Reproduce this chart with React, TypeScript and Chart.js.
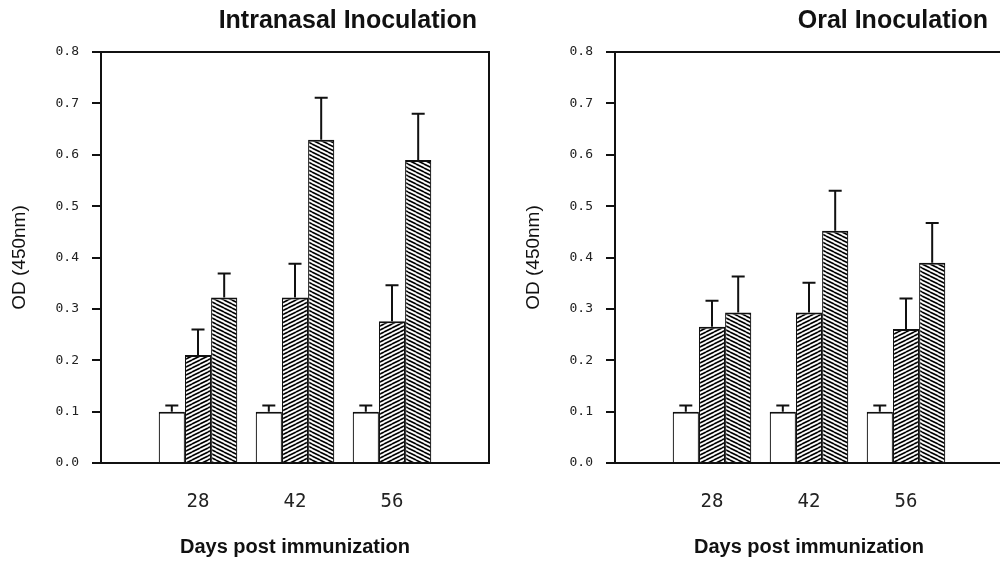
import React, { useEffect, useRef } from 'react';
import { Chart, registerables } from 'chart.js';

Chart.register(...registerables);

// ---- data ----
const days = ['28', '42', '56'];

const intranasalControl = [0.1, 0.1, 0.1];
const intranasalControlErr = [0.012, 0.012, 0.012];
const intranasalGroupA = [0.21, 0.322, 0.276];
const intranasalGroupAErr = [0.05, 0.066, 0.07];
const intranasalGroupB = [0.322, 0.629, 0.59];
const intranasalGroupBErr = [0.047, 0.082, 0.09];

const oralControl = [0.1, 0.1, 0.1];
const oralControlErr = [0.012, 0.012, 0.012];
const oralGroupA = [0.265, 0.293, 0.261];
const oralGroupAErr = [0.051, 0.058, 0.059];
const oralGroupB = [0.293, 0.452, 0.39];
const oralGroupBErr = [0.07, 0.078, 0.077];

const yMin = 0;
const yMax = 0.8;
const yStep = 0.1;

const pad = (a: (number | string)[]) => [null, ...a, null];

function makeHatch(dir: number): CanvasPattern | string {
  const c = document.createElement('canvas');
  const w = 8;
  const h = 4;
  c.width = w;
  c.height = h;
  const g = c.getContext('2d');
  if (!g) return '#888';
  g.fillStyle = '#ffffff';
  g.fillRect(0, 0, w, h);
  g.strokeStyle = '#000000';
  g.lineWidth = 1.6;
  for (const dy of [-h, 0, h]) {
    g.beginPath();
    if (dir > 0) {
      g.moveTo(0, h + dy);
      g.lineTo(w, dy);
    } else {
      g.moveTo(0, dy);
      g.lineTo(w, h + dy);
    }
    g.stroke();
  }
  const p = g.createPattern(c, 'repeat');
  return p || '#888';
}

const decorPlugin = {
  id: 'panelDecor',
  afterDatasetsDraw(chart: any, _args: any, opts: any) {
    const ctx = chart.ctx;
    const { left, right, top, bottom } = chart.chartArea;
    const yScale = chart.scales.y;
    ctx.save();
    // error bars
    ctx.strokeStyle = '#111';
    ctx.lineWidth = 2;
    (opts.errors || []).forEach((errs: (number | null)[], di: number) => {
      const meta = chart.getDatasetMeta(di);
      const data = chart.data.datasets[di].data;
      meta.data.forEach((bar: any, i: number) => {
        const v = data[i];
        const e = errs[i];
        if (v == null || e == null) return;
        const { x, y } = bar.getProps(['x', 'y'], true);
        const yt = yScale.getPixelForValue(v + e);
        ctx.beginPath();
        ctx.moveTo(x, y);
        ctx.lineTo(x, yt);
        ctx.moveTo(x - 6.5, yt);
        ctx.lineTo(x + 6.5, yt);
        ctx.stroke();
      });
    });
    // frame
    ctx.strokeStyle = '#111';
    ctx.lineWidth = 2;
    ctx.strokeRect(left, top, right - left, bottom - top);
    // panel title
    ctx.font = 'bold 25px "Liberation Sans", Arial, sans-serif';
    ctx.fillStyle = '#111';
    ctx.textAlign = 'right';
    ctx.textBaseline = 'alphabetic';
    ctx.fillText(opts.title, right - opts.titleInset, opts.titleBaseline);
    ctx.restore();
  },
};

type PanelProps = {
  title: string;
  titleInset: number;
  control: number[];
  controlErr: number[];
  groupA: number[];
  groupAErr: number[];
  groupB: number[];
  groupBErr: number[];
};

function Panel(props: PanelProps) {
  const ref = useRef<HTMLCanvasElement | null>(null);
  useEffect(() => {
    if (!ref.current) return;
    const hatchA = makeHatch(1);
    const hatchB = makeHatch(-1);
    const bw = { top: 2, left: 1.2, right: 1.2, bottom: 0 };
    const chart = new Chart(ref.current, {
      type: 'bar',
      data: {
        labels: pad(days) as any,
        datasets: [
          {
            label: 'Control',
            data: pad(props.control) as any,
            backgroundColor: '#ffffff',
            borderColor: '#111',
            borderWidth: bw,
            borderSkipped: false,
          },
          {
            label: 'Group A',
            data: pad(props.groupA) as any,
            backgroundColor: hatchA as any,
            borderColor: '#111',
            borderWidth: bw,
            borderSkipped: false,
          },
          {
            label: 'Group B',
            data: pad(props.groupB) as any,
            backgroundColor: hatchB as any,
            borderColor: '#111',
            borderWidth: bw,
            borderSkipped: false,
          },
        ],
      },
      options: {
        animation: false,
        responsive: true,
        maintainAspectRatio: false,
        datasets: { bar: { barPercentage: 1, categoryPercentage: 0.81 } },
        layout: { padding: { left: 0, right: 11, top: 52, bottom: 0 } },
        plugins: {
          legend: { display: false },
          tooltip: { enabled: false },
          title: { display: false },
          panelDecor: {
            title: props.title,
            titleInset: props.titleInset,
            titleBaseline: 27.5,
            errors: [pad(props.controlErr), pad(props.groupAErr), pad(props.groupBErr)],
          },
        } as any,
        scales: {
          x: {
            type: 'category',
            offset: false,
            grid: { display: false, drawTicks: false },
            border: { display: false },
            ticks: {
              padding: 28,
              autoSkip: false,
              maxRotation: 0,
              color: '#222',
              font: { family: '"DejaVu Sans Mono", monospace', size: 19 },
            },
            title: {
              display: true,
              text: 'Days post immunization',
              color: '#111',
              font: { family: '"Liberation Sans", Arial, sans-serif', size: 20, weight: 'bold' },
              padding: { top: 0, bottom: 5 },
            },
            afterFit: (s: any) => {
              s.height = 101;
            },
          },
          y: {
            min: yMin,
            max: yMax,
            grid: {
              drawOnChartArea: false,
              drawTicks: true,
              tickLength: 9,
              color: '#111',
              lineWidth: 2,
            },
            border: { display: false },
            ticks: {
              stepSize: yStep,
              padding: 13,
              color: '#222',
              font: { family: '"DejaVu Sans Mono", monospace', size: 13 },
              callback: (v: any) => Number(v).toFixed(1),
            },
            title: {
              display: true,
              text: 'OD (450nm)',
              color: '#111',
              font: { family: '"Liberation Sans", Arial, sans-serif', size: 19 },
              padding: { top: 8, bottom: 0 },
            },
            afterFit: (s: any) => {
              s.width = 101;
            },
          },
        },
      } as any,
      plugins: [decorPlugin as any],
    });
    return () => chart.destroy();
  }, []);
  return <canvas ref={ref} />;
}

export default function App() {
  return (
    <div
      style={{
        position: 'fixed',
        left: 0,
        top: 0,
        width: 1000,
        height: 564,
        overflow: 'hidden',
        background: '#fff',
      }}
    >
      <div style={{ position: 'absolute', left: 0, top: 0, width: 500, height: 564 }}>
        <Panel
          title="Intranasal Inoculation"
          titleInset={12}
          control={intranasalControl}
          controlErr={intranasalControlErr}
          groupA={intranasalGroupA}
          groupAErr={intranasalGroupAErr}
          groupB={intranasalGroupB}
          groupBErr={intranasalGroupBErr}
        />
      </div>
      <div style={{ position: 'absolute', left: 514, top: 0, width: 500, height: 564 }}>
        <Panel
          title="Oral Inoculation"
          titleInset={15}
          control={oralControl}
          controlErr={oralControlErr}
          groupA={oralGroupA}
          groupAErr={oralGroupAErr}
          groupB={oralGroupB}
          groupBErr={oralGroupBErr}
        />
      </div>
    </div>
  );
}
